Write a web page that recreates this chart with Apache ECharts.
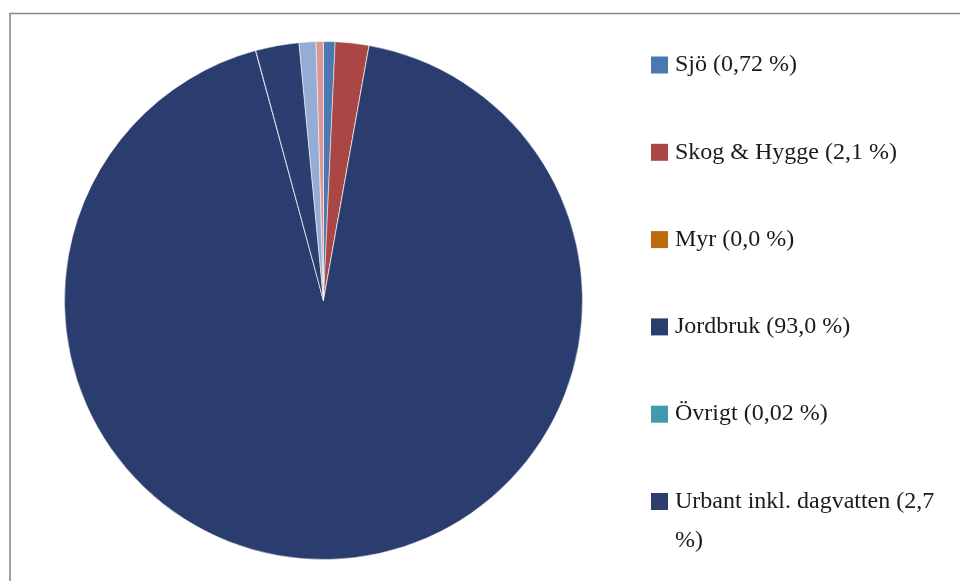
<!DOCTYPE html>
<html>
<head>
<meta charset="utf-8">
<script src="https://cdn.jsdelivr.net/npm/echarts@6/dist/echarts.min.js"></script>
<style>
html,body{margin:0;padding:0;background:#fff;}
#c{width:960px;height:581px;}
</style>
</head>
<body>
<div id="c"></div>
<script>
// Categories shown in the legend
const categories = ['Sjö', 'Skog & Hygge', 'Myr', 'Jordbruk', 'Övrigt', 'Urbant inkl. dagvatten'];
// Shares (%)
const shares = [0.72, 2.1, 0.0, 93.0, 0.02, 2.7];
// Share text as printed in the legend
const shareText = ['0,72', '2,1', '0,0', '93,0', '0,02', '2,7'];
// Two further slices visible in the pie but not in the (cut-off) legend
const extraNames = ['Källa 7', 'Källa 8'];
const extraShares = [1.05, 0.46];

const colors = ['#4A78B0', '#AA4643', '#BE6A0E', '#2B3C6E', '#4399B2', '#2C3D70', '#95ADD6', '#D99795'];

const labels = categories.map((c, i) => c + ' (' + shareText[i] + ' %)');
const names = labels.concat(extraNames);
const values = shares.concat(extraShares);
const data = names.map((n, i) => ({ name: n, value: values[i], itemStyle: { color: colors[i] } }));

const textStyle = {
  fontFamily: 'Liberation Serif',
  fontSize: 24,
  color: '#1a1a1a',
  padding: [0, 0, 10, 2]
};

const chart = echarts.init(document.getElementById('c'), null, { renderer: 'canvas' });
chart.setOption({
  backgroundColor: '#ffffff',
  animation: false,
  graphic: [{
    type: 'rect',
    shape: { x: 10, y: 13.5, width: 1200, height: 1200 },
    style: { fill: null, stroke: '#898989', lineWidth: 1.6 },
    silent: true
  }],
  legend: [{
    orient: 'vertical',
    left: 651,
    top: 45,
    padding: 0,
    itemWidth: 17,
    itemHeight: 17,
    itemGap: 47.3,
    icon: 'rect',
    itemStyle: { borderWidth: 0 },
    selectedMode: false,
    data: labels.slice(0, 5),
    textStyle: Object.assign({ lineHeight: 30 }, textStyle)
  }, {
    orient: 'vertical',
    left: 651,
    top: 438,
    padding: 0,
    itemWidth: 17,
    itemHeight: 17,
    icon: 'rect',
    itemStyle: { borderWidth: 0 },
    selectedMode: false,
    data: labels.slice(5),
    formatter: function (n) { return '\n' + n.replace(/ (%\))$/, '\n$1'); },
    textStyle: Object.assign({ lineHeight: 39 }, textStyle)
  }],
  series: [{
    type: 'pie',
    center: [323.5, 300.5],
    radius: 259,
    startAngle: 90,
    clockwise: true,
    label: { show: false },
    labelLine: { show: false },
    emphasis: { disabled: true },
    itemStyle: { borderColor: '#ffffff', borderWidth: 0.5 },
    data: data
  }]
});
</script>
</body>
</html>
